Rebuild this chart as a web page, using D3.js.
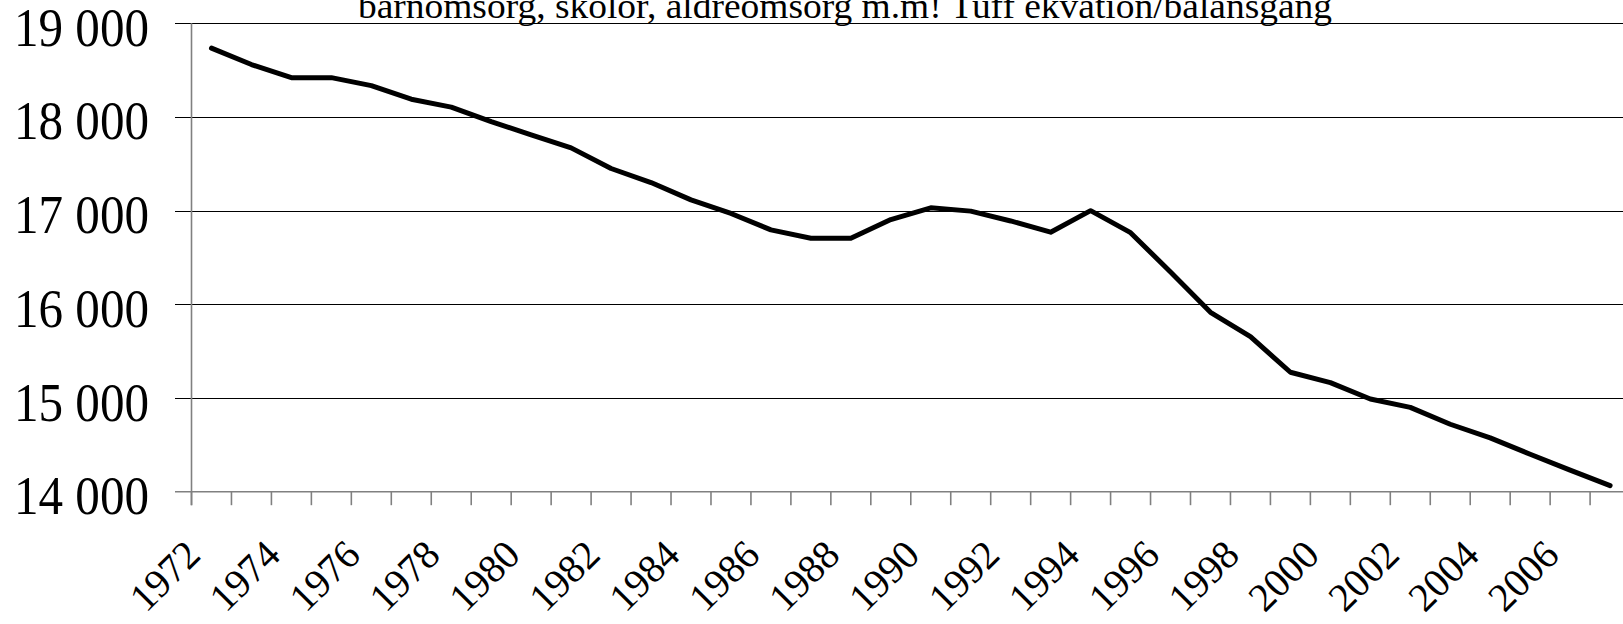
<!DOCTYPE html>
<html>
<head>
<meta charset="utf-8">
<script src="https://cdn.jsdelivr.net/npm/d3@7"></script>
<style>
html,body{margin:0;padding:0;background:#fff;overflow:hidden;}
svg{display:block;}
text{font-family:"Liberation Serif","Times New Roman",serif;fill:#000;}
</style>
</head>
<body>
<svg id="chart" width="1623" height="624"></svg>
<script>
const titleText = "barnomsorg, skolor, äldreomsorg m.m! Tuff ekvation/balansgång";
const years = [1972,1973,1974,1975,1976,1977,1978,1979,1980,1981,1982,1983,1984,1985,1986,1987,1988,1989,1990,1991,1992,1993,1994,1995,1996,1997,1998,1999,2000,2001,2002,2003,2004,2005,2006,2007];
const values = [18735,18560,18420,18420,18335,18190,18105,17950,17810,17670,17450,17300,17115,16970,16795,16705,16705,16905,17030,16995,16890,16770,17000,16765,16345,15915,15655,15275,15165,14990,14900,14720,14575,14400,14230,14065];
const yTicks = [14000,15000,16000,17000,18000,19000];
const xLabels = [1972,1974,1976,1978,1980,1982,1984,1986,1988,1990,1992,1994,1996,1998,2000,2002,2004,2006];

const W = 1623, H = 624;
const svg = d3.select("#chart");
svg.append("rect").attr("width", W).attr("height", H).attr("fill", "#fff");

const left = 191.5, bandW = 39.96;
const x = d3.scaleBand().domain(years).range([left, left + years.length * bandW]).padding(0);
const y = d3.scaleLinear().domain([14000, 19000]).range([491.7, 23.3]);
const fmt = v => d3.format(",")(v).replace(",", " ");

// gridlines + outward y ticks
svg.append("g").selectAll("line").data(yTicks.filter(v => v !== 14000)).join("line")
  .attr("x1", 175).attr("x2", W)
  .attr("y1", d => Math.round(y(d)) + 0.5).attr("y2", d => Math.round(y(d)) + 0.5)
  .attr("stroke", "#000").attr("stroke-width", 1);

// y labels
svg.append("g").selectAll("text").data(yTicks).join("text")
  .attr("x", 149).attr("y", d => y(d) + 22.5)
  .attr("text-anchor", "end").attr("font-size", 54)
  .attr("textLength", 135).attr("lengthAdjust", "spacingAndGlyphs")
  .text(fmt);

// x axis line
svg.append("line").attr("x1", 175).attr("x2", W)
  .attr("y1", y(14000)).attr("y2", y(14000))
  .attr("stroke", "#808080").attr("stroke-width", 1.6);
// y axis line
svg.append("line").attr("x1", left).attr("x2", left)
  .attr("y1", y(19000)).attr("y2", y(14000) + 13.5)
  .attr("stroke", "#808080").attr("stroke-width", 1.6);

// x ticks at band boundaries
const bounds = years.map(d => x(d)).concat([x(years[years.length - 1]) + x.bandwidth()]);
svg.append("g").selectAll("line").data(bounds).join("line")
  .attr("x1", d => d).attr("x2", d => d)
  .attr("y1", y(14000)).attr("y2", y(14000) + 13.5)
  .attr("stroke", "#808080").attr("stroke-width", 1.6);

// x labels
svg.append("g").selectAll("text").data(xLabels).join("text")
  .attr("transform", d => `translate(${x(d) + x.bandwidth() / 2 - 9},557) rotate(-45)`)
  .attr("text-anchor", "end").attr("font-size", 40)
  .text(d => d);

// data line
const line = d3.line().x((d, i) => x(years[i]) + x.bandwidth() / 2).y(d => y(d));
svg.append("path").datum(values).attr("d", line)
  .attr("fill", "none").attr("stroke", "#000").attr("stroke-width", 5)
  .attr("stroke-linejoin", "round").attr("stroke-linecap", "round");

// title (clipped at top, as in the original)
svg.append("text").attr("x", 845).attr("y", 17.5)
  .attr("text-anchor", "middle").attr("font-size", 35)
  .attr("textLength", 974).attr("lengthAdjust", "spacingAndGlyphs")
  .text(titleText);
</script>
</body>
</html>
